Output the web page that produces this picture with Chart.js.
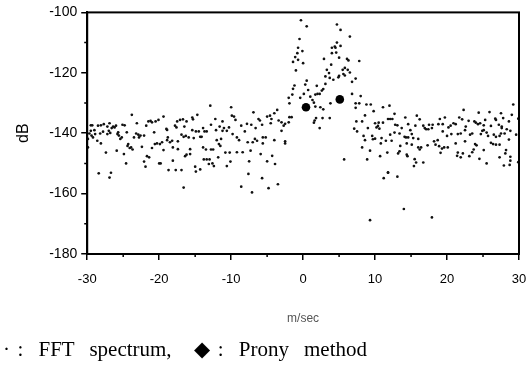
<!DOCTYPE html>
<html>
<head>
<meta charset="utf-8">
<script src="https://cdn.jsdelivr.net/npm/chart.js@4.4.0/dist/chart.umd.min.js"></script>
<style>
  html, body { margin: 0; padding: 0; background: #fff; }
  #wrap { position: relative; width: 527px; height: 377px; }
  #note {
    position: absolute; left: 3px; top: 337px;
    font: 21px "Liberation Serif", "Times New Roman", serif;
    word-spacing: 2.3px;
    white-space: pre; color: #000;
  }
</style>
</head>
<body>
<div id="wrap">
  <canvas id="chart" width="527" height="377"></canvas>
  <div id="note">· :  FFT  spectrum,   ◆ :  Prony  method</div>
</div>
<script>
// ---- data (x in m/sec, y in dB) ----

// FFT spectrum, -30 .. -20 m/sec
const fftWest = [
  [-29.5,-137.4],[-29.3,-137.4],[-28.5,-137.5],[-28.1,-137.4],[-27.7,-137.0],[-27.2,-137.8],[-26.9,-136.7],
  [-29.7,-140.1],[-29.4,-140.8],[-29.2,-141.4],[-28.9,-140.3],[-28.6,-142.5],[-28.2,-140.1],[-28.1,-143.4],
  [-27.8,-139.5],[-27.4,-146.4],[-27.2,-140.3],[-27.0,-139.2],[-26.8,-139.9],[-26.6,-138.3],[-26.4,-137.8],
  [-26.2,-138.1],[-26.0,-137.5],[-25.8,-140.3],[-25.7,-139.7],[-25.6,-140.8],[-25.4,-141.9],[-25.2,-141.4],
  [-25.1,-137.2],[-24.8,-137.4],[-24.5,-139.7],[-24.4,-144.2],[-24.3,-143.6],[-24.1,-144.9],[-23.9,-144.7],
  [-23.7,-145.4],[-23.5,-141.4],[-23.8,-133.9],[-23.2,-140.1],[-23.1,-136.7],[-22.9,-140.5],[-22.8,-141.4],
  [-22.6,-140.8],[-22.4,-144.5],[-22.1,-140.8],[-21.8,-137.5],[-21.5,-136.1],[-21.2,-135.9],[-21.0,-136.4],
  [-20.7,-139.7],[-20.5,-136.1],[-20.1,-135.6],[-20.6,-143.6],[-20.3,-143.4],[-21.0,-144.9],[-21.7,-147.6],
  [-21.4,-148.0],[-22.1,-149.4],[-21.9,-151.1],[-20.0,-150.0],[-25.9,-145.8],[-24.9,-146.9],[-24.6,-150.0],
  [-28.4,-153.3],[-26.7,-153.1],[-26.9,-154.7],[-29.9,-144.7],[-29.9,-141.9],[-29.5,-139.2],[-29.0,-139.0]
];

// FFT spectrum, -20 .. -9.5 m/sec
const fftMidWest = [
  [-12.9,-130.9],[-10.0,-131.4],[-19.4,-134.5],[-14.7,-133.9],[-15.4,-134.8],[-15.3,-135.4],[-17.5,-136.1],
  [-17.1,-135.6],[-16.7,-135.4],[-16.2,-136.1],[-12.2,-135.3],[-11.2,-136.1],[-9.9,-134.2],[-9.6,-134.5],
  [-17.8,-137.5],[-17.6,-138.1],[-16.5,-137.8],[-19.0,-138.6],[-18.9,-138.9],[-15.4,-139.0],[-14.9,-139.4],
  [-14.5,-139.4],[-13.7,-139.4],[-13.4,-139.4],[-12.8,-137.2],[-13.9,-138.3],[-12.1,-139.0],[-11.6,-137.8],
  [-11.2,-139.2],[-11.0,-138.3],[-10.6,-139.2],[-10.3,-138.1],[-9.8,-140.3],[-16.9,-140.5],[-16.6,-141.2],
  [-16.3,-140.9],[-15.9,-141.4],[-15.2,-141.6],[-14.3,-141.2],[-14.1,-141.2],[-18.8,-141.4],[-18.9,-142.3],
  [-18.2,-142.5],[-18.5,-143.0],[-19.6,-143.0],[-19.9,-143.6],[-17.4,-142.7],[-12.0,-142.3],[-11.4,-141.9],
  [-11.7,-143.6],[-11.5,-144.2],[-19.4,-145.6],[-18.1,-144.7],[-17.4,-145.3],[-15.7,-145.3],[-13.9,-144.7],
  [-13.5,-145.4],[-12.8,-145.4],[-12.5,-145.4],[-10.8,-146.4],[-10.2,-146.4],[-16.2,-147.1],[-16.4,-147.6],
  [-15.7,-146.9],[-13.8,-148.7],[-13.4,-148.7],[-13.0,-148.7],[-11.8,-148.0],[-10.1,-149.4],[-12.6,-150.0],
  [-12.4,-150.9],[-13.1,-150.2],[-10.6,-150.9],[-18.1,-149.1],[-19.8,-150.0],[-18.7,-152.2],[-17.7,-152.2],
  [-16.9,-152.2],[-15.0,-151.1],[-14.9,-152.7],[-14.3,-152.0],[-16.6,-158.0]
];

// FFT spectrum, -9.5 .. 1 m/sec (first peak)
const fftPeakLow = [
  [-0.3,-102.6],[0.5,-104.6],[-0.5,-108.8],[-0.7,-111.7],[-0.1,-112.8],[-0.8,-113.5],[-1.1,-114.8],
  [-0.7,-115.7],[-1.4,-116.4],[0.0,-116.8],[-1.0,-119.2],[0.5,-122.6],[-1.2,-124.2],[-1.4,-125.3],
  [0.3,-123.9],[0.7,-125.7],[-1.5,-127.2],[0.1,-127.0],[-0.4,-128.3],[-2.0,-128.3],[-1.9,-130.1],
  [-6.9,-133.1],[-3.6,-132.3],[-4.0,-133.4],[-4.6,-134.2],[-5.0,-134.5],[-6.2,-135.3],[-6.0,-135.8],
  [-4.4,-135.3],[-3.4,-135.8],[-3.0,-136.4],[-2.5,-136.9],[-2.0,-136.4],[-1.6,-134.7],[-1.9,-134.7],
  [-9.4,-135.6],[-7.8,-136.9],[-7.2,-137.2],[-8.6,-137.5],[-8.1,-139.4],[-6.6,-138.3],[-5.7,-137.2],
  [-4.5,-136.7],[-2.7,-137.5],[-3.0,-139.2],[-9.2,-141.4],[-8.9,-142.3],[-6.7,-141.9],[-6.4,-142.5],
  [-5.6,-141.4],[-5.2,-141.4],[-4.0,-142.3],[-2.5,-142.7],[-2.5,-143.4],[-7.7,-143.0],[-7.0,-143.0],
  [-5.6,-143.4],[-9.2,-146.3],[-8.4,-146.3],[-7.3,-145.8],[-5.9,-146.9],[-4.3,-147.5],[-7.5,-149.3],
  [-5.0,-149.3],[-3.9,-150.2],[-7.6,-153.5],[-5.7,-154.9],[-3.5,-156.9],[-8.6,-157.7],[-4.8,-158.2],
  [-7.1,-159.6]
];

// FFT spectrum, 1 .. 11.5 m/sec (second peak)
const fftPeakHigh = [
  [4.7,-104.0],[5.2,-105.8],[6.5,-108.0],[4.7,-110.0],[4.4,-111.3],[4.0,-111.7],[4.5,-111.7],
  [5.2,-111.1],[4.6,-113.3],[4.0,-113.5],[2.9,-115.4],[5.0,-115.0],[6.1,-115.4],[6.3,-115.9],
  [7.8,-116.1],[3.9,-117.3],[3.3,-119.0],[3.6,-120.1],[5.5,-119.0],[5.8,-118.4],[6.2,-119.0],
  [6.5,-119.9],[5.6,-120.4],[5.8,-120.9],[5.0,-121.0],[4.9,-121.5],[3.7,-121.7],[4.2,-122.3],
  [3.1,-121.2],[7.3,-121.9],[6.8,-123.0],[3.1,-123.7],[1.9,-124.3],[2.8,-125.4],[2.6,-125.9],
  [2.0,-127.0],[2.3,-127.0],[1.7,-127.2],[6.8,-127.0],[8.0,-127.7],[1.0,-127.9],[1.3,-129.0],
  [1.5,-129.9],[1.7,-131.2],[2.4,-131.4],[2.8,-132.1],[3.8,-130.1],[7.3,-130.1],[7.8,-130.1],
  [7.3,-131.6],[8.8,-130.5],[9.4,-130.5],[9.8,-132.7],[11.1,-131.4],[1.8,-135.0],[1.6,-135.8],
  [1.5,-136.5],[2.7,-135.0],[3.7,-135.0],[2.3,-138.3],[8.6,-134.1],[7.4,-136.1],[8.2,-136.1],
  [10.0,-136.7],[10.5,-136.5],[11.1,-136.5],[10.2,-138.1],[10.4,-137.6],[10.6,-138.5],[7.1,-138.5],
  [7.5,-139.4],[9.0,-138.3],[8.4,-140.9],[8.6,-142.3],[9.6,-140.9],[9.7,-142.0],[10.0,-141.8],
  [10.9,-141.6],[10.8,-143.4],[8.2,-144.7],[9.3,-145.8],[10.7,-147.6],[8.9,-148.7],[5.7,-148.7],
  [11.2,-154.9],[11.8,-153.1],[9.3,-168.8],[14.0,-165.1],[17.9,-167.9]
];

// FFT spectrum, 11.5 .. 22 m/sec
const fftMidEast = [
  [12.0,-130.9],[11.8,-135.3],[12.1,-135.3],[12.4,-135.3],[12.7,-133.6],[14.2,-134.8],[15.8,-134.2],
  [16.2,-135.4],[12.8,-137.2],[13.1,-137.4],[13.7,-138.3],[14.6,-137.0],[15.6,-137.5],[16.7,-137.5],
  [16.9,-138.3],[17.1,-138.7],[17.4,-138.7],[17.5,-137.2],[18.0,-137.2],[17.9,-138.3],[18.8,-137.0],
  [19.0,-135.3],[19.4,-137.0],[19.7,-134.8],[20.2,-138.1],[20.5,-137.5],[20.9,-136.7],[21.2,-137.0],
  [21.7,-134.8],[21.5,-140.3],[20.6,-140.3],[20.0,-140.9],[19.4,-139.4],[12.1,-140.5],[12.7,-139.8],
  [13.4,-140.1],[14.1,-141.2],[14.3,-141.4],[14.6,-141.4],[15.1,-140.3],[14.9,-139.0],[16.0,-141.9],
  [15.3,-141.6],[11.5,-142.5],[12.3,-142.5],[13.5,-144.2],[14.4,-143.4],[15.1,-143.8],[16.0,-144.7],
  [16.2,-145.4],[16.4,-144.7],[17.3,-144.0],[18.2,-142.7],[18.7,-142.3],[18.4,-143.8],[18.9,-144.3],
  [19.3,-145.1],[19.6,-144.7],[20.1,-144.7],[19.1,-146.5],[21.2,-143.4],[21.5,-146.4],[21.4,-147.5],
  [11.7,-146.4],[13.4,-146.0],[13.2,-146.7],[14.4,-147.1],[14.5,-147.6],[15.5,-148.6],[15.7,-149.7],
  [16.7,-149.7],[15.4,-150.9],[11.8,-153.0],[13.1,-154.4]
];

// FFT spectrum, 22 .. 30 m/sec
const fftEast = [
  [29.2,-130.5],[22.3,-132.3],[24.4,-133.2],[25.9,-133.0],[27.5,-133.4],[29.0,-133.9],[29.9,-135.2],
  [22.1,-135.4],[23.0,-135.9],[23.8,-136.1],[24.0,-136.5],[24.3,-137.0],[24.6,-136.7],[25.3,-135.6],
  [26.7,-135.2],[26.8,-135.6],[27.8,-135.0],[28.6,-136.1],[25.1,-137.4],[26.1,-137.6],[27.2,-137.2],
  [27.6,-137.8],[27.6,-138.3],[21.9,-140.1],[22.5,-139.0],[22.6,-137.8],[23.2,-140.5],[23.5,-140.1],
  [24.9,-139.2],[25.1,-139.0],[25.5,-139.8],[24.7,-140.3],[25.7,-140.9],[26.5,-140.5],[26.8,-141.2],
  [27.3,-140.9],[27.5,-140.1],[28.0,-140.1],[28.3,-138.7],[28.8,-139.2],[28.6,-142.1],[29.6,-140.5],
  [22.5,-142.7],[23.9,-143.6],[24.1,-144.0],[26.1,-143.2],[26.4,-143.6],[26.8,-143.8],[27.3,-143.8],
  [25.1,-145.6],[23.7,-145.4],[23.5,-146.3],[22.2,-146.7],[23.1,-147.6],[21.9,-148.0],[24.5,-148.5],
  [25.5,-150.0],[27.3,-148.0],[28.2,-145.6],[28.1,-146.7],[28.8,-147.8],[28.8,-149.1],[27.9,-150.7],
  [28.7,-150.5],[29.9,-149.6]
];

// Prony method estimates
const pronyVel = [0.4, 5.1];
const pronyDb = [-131.4, -128.8];

// axis ranges
const velRange = [-30, 30];
const dbRange = [-180, -100];

const toPoints = arr => arr.map(([x, y]) => ({ x, y }));
const fftAll = [...fftWest, ...fftMidWest, ...fftPeakLow, ...fftPeakHigh, ...fftMidEast, ...fftEast];

// minor ticks (every 5 m/sec, every 10 dB) + closed frame round the plot
const frameAndMinorTicks = {
  id: 'frameAndMinorTicks',
  afterDraw(chart) {
    const ctx = chart.ctx;
    const xs = chart.scales.x, ys = chart.scales.y;
    const a = chart.chartArea;
    ctx.save();
    ctx.strokeStyle = '#000';
    ctx.lineWidth = 1.5;
    ctx.beginPath();
    for (let v = xs.min + 5; v < xs.max; v += 10) {
      const px = xs.getPixelForValue(v);
      ctx.moveTo(px, a.bottom);
      ctx.lineTo(px, a.bottom + 3);
    }
    for (let v = ys.min + 10; v < ys.max; v += 20) {
      const py = ys.getPixelForValue(v);
      ctx.moveTo(a.left, py);
      ctx.lineTo(a.left - 3, py);
    }
    ctx.stroke();
    ctx.lineWidth = 2;
    ctx.strokeRect(a.left, a.top, a.right - a.left, a.bottom - a.top);
    ctx.restore();
  }
};

const axisFont = { family: "'Liberation Sans', Arial, sans-serif" };

new Chart(document.getElementById('chart'), {
  type: 'scatter',
  data: {
    datasets: [{
      label: 'FFT spectrum',
      data: toPoints(fftAll),
      pointRadius: 1.35,
      pointBorderWidth: 0,
      pointBackgroundColor: '#111',
    }, {
      label: 'Prony method',
      data: pronyVel.map((x, i) => ({ x, y: pronyDb[i] })),
      pointRadius: 4.3,
      pointBorderWidth: 0,
      pointBackgroundColor: '#000',
    }]
  },
  options: {
    responsive: false,
    animation: false,
    layout: { padding: { left: 0, right: 8, top: 12, bottom: 51 } },
    plugins: {
      legend: { display: false },
      tooltip: { enabled: false }
    },
    scales: {
      x: {
        type: 'linear',
        min: velRange[0], max: velRange[1],
        ticks: { stepSize: 10, color: '#000', padding: 12, font: { ...axisFont, size: 13 } },
        grid: { drawOnChartArea: false, tickLength: 6, color: '#000', lineWidth: 1.5 },
        border: { color: '#000', width: 2 },
        title: {
          display: true, text: 'm/sec', color: '#555',
          font: { ...axisFont, size: 12 },
          padding: { top: 12, bottom: 0 }
        },
        // the tick padding would otherwise also widen the right margin
        afterFit: scale => { scale.paddingRight = 8; }
      },
      y: {
        min: dbRange[0], max: dbRange[1],
        ticks: { stepSize: 20, color: '#000', padding: 4, font: { ...axisFont, size: 14 } },
        grid: { drawOnChartArea: false, tickLength: 6, color: '#000', lineWidth: 1.5 },
        border: { color: '#000', width: 2 },
        title: {
          display: true, text: 'dB', color: '#000',
          font: { ...axisFont, size: 16 },
          padding: { top: 14, bottom: 12 }
        }
      }
    }
  },
  plugins: [frameAndMinorTicks]
});
</script>
</body>
</html>
